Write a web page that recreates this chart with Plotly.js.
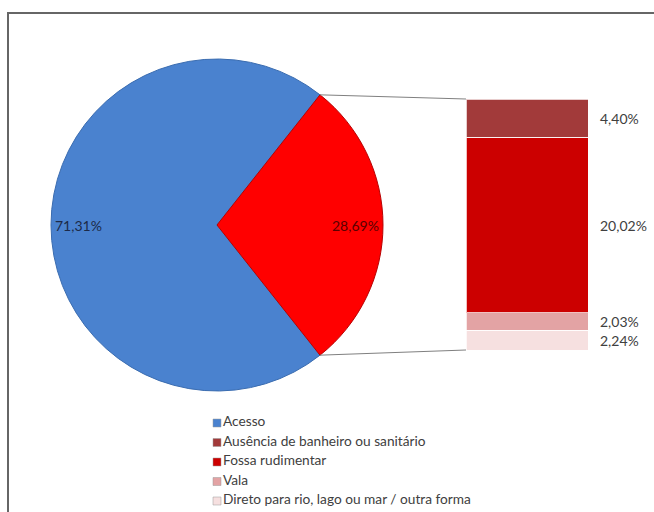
<!DOCTYPE html>
<html>
<head>
<meta charset="utf-8">
<script src="https://cdn.plot.ly/plotly-3.0.1.min.js"></script>
<style>
html,body{margin:0;padding:0;background:#fff;overflow:hidden;width:654px;height:512px;}
#wrap{position:relative;width:654px;height:512px;overflow:hidden;}
#chart{position:absolute;left:0;top:0;width:654px;height:512px;}
#frame{position:absolute;left:7px;top:12px;width:800px;height:700px;border-left:2px solid #666;border-top:2px solid #666;pointer-events:none;}
</style>
</head>
<body>
<div id="wrap"><div id="chart"></div><div id="frame"></div></div>
<script>
// ---- data ----
const pieLabels = ['Acesso', 'Sem acesso'];
const pieValues = [71.31, 28.69];
const pieText = ['71,31%', '28,69%'];
const pieColors = ['#4a82cf', '#ff0000'];
const pieLineColors = ['#3a6cb0', '#b80000'];

const barCategories = ['Ausência de banheiro ou sanitário', 'Fossa rudimentar', 'Vala', 'Direto para rio, lago ou mar / outra forma'];
const barValues = [4.40, 20.02, 2.03, 2.24];
const barText = ['4,40%', '20,02%', '2,03%', '2,24%'];
const barColors = ['#a23a3a', '#cc0000', '#e3a3a4', '#f6e0e0'];

const legendLabels = ['Acesso'].concat(barCategories);
const legendColors = [pieColors[0]].concat(barColors);

// ---- layout geometry ----
const W = 654, H = 512;
const CX = 217, CY = 225, R = 166;        // pie centre / radius (px)
const BX0 = 466, BX1 = 588, BY0 = 99, BY1 = 350; // bar box (px)
const px = x => x / W, py = y => (H - y) / H;

const total = pieValues.reduce((a, b) => a + b, 0);
const degs = pieValues.map(v => v / total * 360);
// rotate so the second slice is centred at 3 o'clock (clockwise from top)
const startAngle = 90 - degs[1] / 2 - degs[0];
const rot = startAngle < -360 ? startAngle + 360 : startAngle;

const traces = [];
traces.push({
  type: 'pie', labels: pieLabels, values: pieValues, sort: false,
  direction: 'clockwise', rotation: rot, textinfo: 'none', showlegend: false,
  hoverinfo: 'none',
  marker: {colors: pieColors, line: {color: pieLineColors, width: 1}},
  domain: {x: [px(CX - R), px(CX + R)], y: [py(CY + R), py(CY - R)]}
});

// stacked bar: bottom segment first
for (let i = barValues.length - 1; i >= 0; i--) {
  traces.push({
    type: 'bar', x: [0], y: [barValues[i]], width: [1], name: barCategories[i],
    xaxis: 'x2', yaxis: 'y2', showlegend: false, hoverinfo: 'none',
    marker: {color: barColors[i], line: {color: 'rgba(255,255,255,0.75)', width: 1}}
  });
}

// legend drawn as a marker+text series
traces.push({
  type: 'scatter', mode: 'markers+text', xaxis: 'x3', yaxis: 'y3',
  x: legendLabels.map(() => 0), y: legendLabels.map((_, i) => i),
  text: legendLabels, textposition: 'middle right', cliponaxis: false,
  showlegend: false, hoverinfo: 'none',
  textfont: {family: 'Lato, sans-serif', size: 13.7, color: '#404040'},
  marker: {symbol: 'square', size: 8, color: legendColors, line: {color: '#9a9a9a', width: 0.5}}
});

const barTotal = barValues.reduce((a, b) => a + b, 0);
const annotations = [];
// bar labels at segment midpoints (top segment = first category)
let acc = barTotal;
barValues.forEach((v, i) => {
  annotations.push({
    xref: 'x2', yref: 'y2', x: 0.5, y: acc - v / 2, text: barText[i],
    xanchor: 'left', yanchor: 'middle', xshift: 10, showarrow: false,
    font: {family: 'Lato, sans-serif', size: 14, color: '#404040'}
  });
  acc -= v;
});
// pie labels near outer edge
let cum = rot;
pieValues.forEach((v, i) => {
  const mid = (cum + degs[i] / 2) * Math.PI / 180;
  const rr = 0.835 * R;
  annotations.push({
    xref: 'paper', yref: 'paper', x: px(CX + rr * Math.sin(mid)), y: py(CY - rr * Math.cos(mid)),
    text: pieText[i], showarrow: false, xanchor: 'center', yanchor: 'middle',
    font: {family: 'Lato, sans-serif', size: 14, color: i === 0 ? '#1c2a48' : '#5a0000'}
  });
  cum += degs[i];
});

// connector lines from the red slice edges to the bar
const a1 = (rot + degs[0]) * Math.PI / 180;
const a2 = (rot + degs[0] + degs[1]) * Math.PI / 180;
const shapes = [
  {type: 'line', xref: 'paper', yref: 'paper',
   x0: px(CX + R * Math.sin(a1)), y0: py(CY - R * Math.cos(a1)), x1: px(BX0), y1: py(BY0),
   line: {color: '#808080', width: 1}},
  {type: 'line', xref: 'paper', yref: 'paper',
   x0: px(CX + R * Math.sin(a2)), y0: py(CY - R * Math.cos(a2)), x1: px(BX0), y1: py(BY1),
   line: {color: '#808080', width: 1}}
];

const layout = {
  width: W, height: H, margin: {l: 0, r: 0, t: 0, b: 0},
  paper_bgcolor: '#ffffff', plot_bgcolor: 'rgba(0,0,0,0)',
  barmode: 'stack', bargap: 0, showlegend: false,
  font: {family: 'Lato, sans-serif'},
  xaxis2: {domain: [px(BX0), px(BX1)], range: [-0.5, 0.5], visible: false, fixedrange: true},
  yaxis2: {domain: [py(BY1), py(BY0)], range: [0, barTotal], visible: false, fixedrange: true},
  xaxis3: {domain: [px(217), 0.98], range: [0, 1], visible: false},
  yaxis3: {domain: [py(501), py(423)], range: [legendLabels.length - 1, 0], visible: false},
  annotations: annotations, shapes: shapes
};

Plotly.newPlot('chart', traces, layout, {staticPlot: true, displayModeBar: false});
</script>
</body>
</html>
